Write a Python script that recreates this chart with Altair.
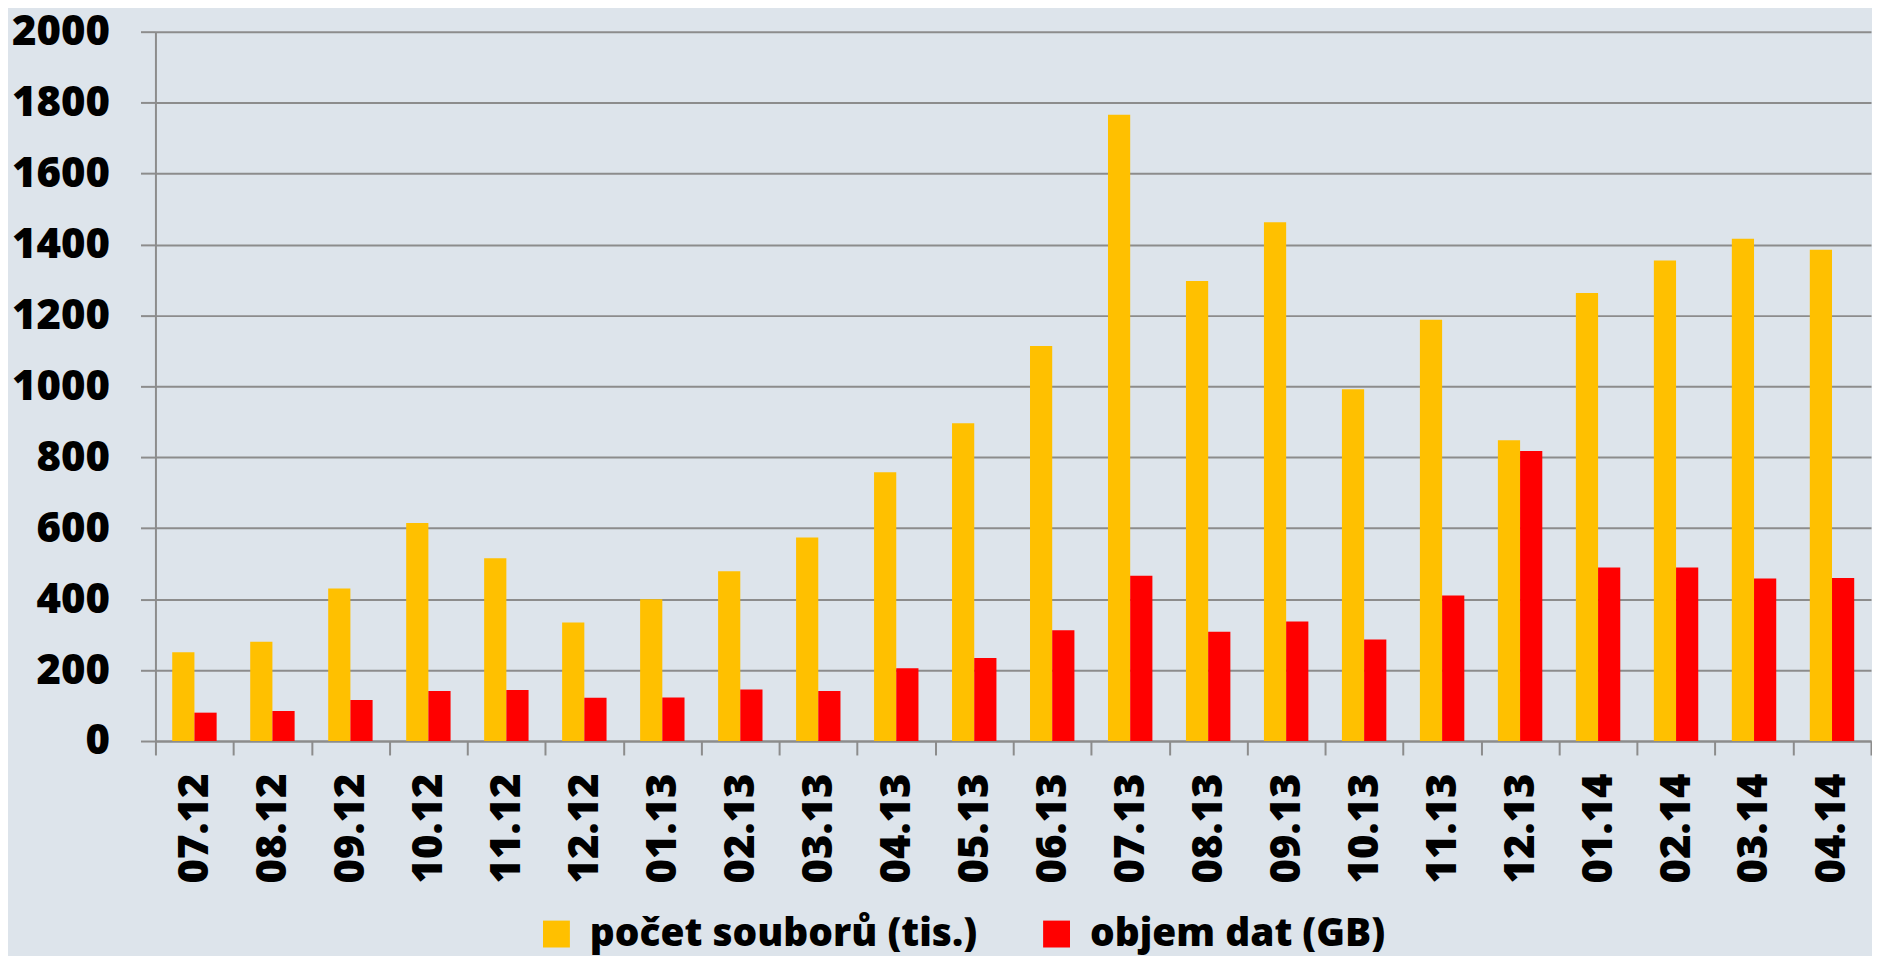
import altair as alt
import pandas as pd

months = ["07.12", "08.12", "09.12", "10.12", "11.12", "12.12", "01.13", "02.13",
          "03.13", "04.13", "05.13", "06.13", "07.13", "08.13", "09.13", "10.13",
          "11.13", "12.13", "01.14", "02.14", "03.14", "04.14"]
soubory = [250, 280, 430, 615, 515, 334, 400, 479, 574, 758, 896, 1114,
           1766, 1297, 1463, 992, 1188, 848, 1263, 1355, 1416, 1385]
objem = [80, 85, 116, 141, 144, 122, 123, 145, 141, 205, 234, 312,
         466, 308, 337, 286, 410, 818, 489, 489, 458, 460]
series = ["počet souborů (tis.)", "objem dat (GB)"]
colors = ["#FFC000", "#FF0000"]
y_ticks = [0, 200, 400, 600, 800, 1000, 1200, 1400, 1600, 1800, 2000]

rows = []
for m, a, b in zip(months, soubory, objem):
    rows.append({"mesic": m, "rada": series[0], "hodnota": a})
    rows.append({"mesic": m, "rada": series[1], "hodnota": b})
df = pd.DataFrame(rows)

FONT = "Open Sans"
GRAY = "#8C8C8C"
FS = 42
FW = 800

chart = alt.Chart(df).mark_bar().encode(
    x=alt.X("mesic:N", sort=months, title=None,
            scale=alt.Scale(paddingInner=0, paddingOuter=0),
            axis=alt.Axis(labelAngle=-90, labelAlign="right", labelBaseline="middle",
                          labelFont=FONT, labelFontSize=FS, labelFontWeight=FW,
                          labelLimit=1000, labelOverlap=False,
                          tickBand="extent", tickSize=14, labelPadding=18,
                          grid=False)),
    xOffset=alt.XOffset("rada:N", sort=series,
                        scale=alt.Scale(paddingInner=0, paddingOuter=0.756)),
    y=alt.Y("hodnota:Q", title=None,
            scale=alt.Scale(domain=[0, 2000], nice=False),
            axis=alt.Axis(values=y_ticks, format="d", tickSize=15, labelPadding=31,
                          labelFont=FONT, labelFontSize=FS, labelFontWeight=FW,
                          grid=True)),
    color=alt.Color("rada:N", sort=series,
                    scale=alt.Scale(domain=series, range=colors),
                    legend=alt.Legend(title=None, orient="none", direction="horizontal",
                                      legendX=383, legendY=886,
                                      symbolType="square", symbolSize=729,
                                      symbolStrokeWidth=0, symbolOpacity=1,
                                      labelFont=FONT, labelFontSize=39,
                                      labelFontWeight=FW, labelColor="#000000",
                                      labelLimit=1000, labelOffset=14,
                                      columnPadding=60)),
).properties(
    width=1722, height=712, background="#DDE4EB",
    padding={"left": 3, "top": 1, "right": 0, "bottom": 0},
).configure_view(
    stroke=None
).configure_axis(
    labelColor="#000000",
    domainColor=GRAY, domainWidth=2, gridColor=GRAY, gridWidth=2,
    tickColor=GRAY, tickWidth=2,
)

chart.save("out.html", embed_options={"renderer": "svg", "actions": False})
